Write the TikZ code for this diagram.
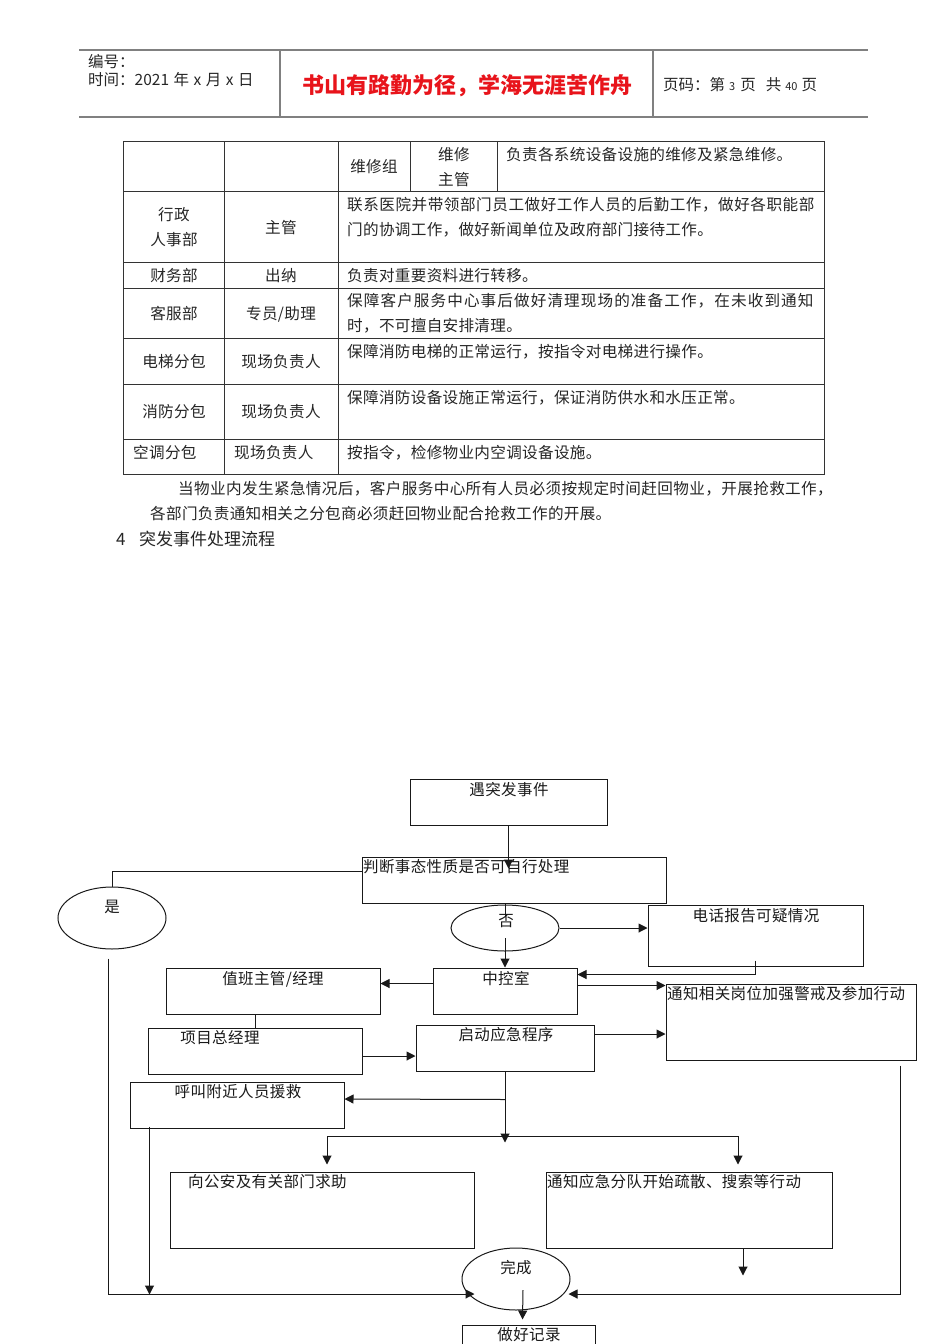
\documentclass[tikz,border=0pt]{standalone}
\usepackage{fontspec}
\setmainfont{Noto Sans CJK SC}
\usetikzlibrary{shapes.geometric,arrows.meta,calc}
\newcommand\mytabfont{\fontsize{15.6}{18}\selectfont\addfontfeatures{LetterSpace=2}}
\newcommand\myflfont{\fontsize{15.5}{18}\selectfont\addfontfeatures{LetterSpace=2.5}}
\newcommand\myhdfont{\fontsize{15.5}{18}\selectfont}
\newcommand\mysmall{\fontsize{11}{12}\selectfont}
\definecolor{hdred}{RGB}{232,20,27}
\begin{document}
\begin{tikzpicture}[x=1pt,y=-1pt,
  ln/.style={draw=black!80, line width=0.9pt},
  hd/.style={draw=black!50, line width=1.1pt},
  tt/.style={inner sep=0pt, font=\mytabfont, text=black!85},
  fbox/.style={draw=black!90, line width=1pt, rectangle, inner sep=0pt},
  fell/.style={draw=black!90, line width=1pt, ellipse, inner sep=0pt},
  ft/.style={inner sep=0pt, font=\myflfont, text=black!90},
  arr/.style={draw=black!90, line width=1pt, -{Triangle[length=9pt,width=9pt]}},
  cn/.style={draw=black!90, line width=1pt}
]
\fill[white] (0,0) rectangle (950,1344);
\useasboundingbox (0,0) rectangle (950,1344);

% ---------- header ----------
\draw[hd] (79,50) -- (868,50);
\draw[hd] (79,117) -- (868,117);
\draw[hd] (280,50) -- (280,117);
\draw[hd] (653,50) -- (653,117);
\node[tt, font=\myhdfont, anchor=west] (h1) at (88,62) {编号：};
\node[tt, font=\myhdfont, anchor=west] (h2) at (88,80) {时间：2021\hspace{4.5pt}年\hspace{4.5pt}x\hspace{4.5pt}月\hspace{4.5pt}x\hspace{4.5pt}日};
\node[inner sep=0pt, font=\fontsize{22}{24}\selectfont\bfseries, text=hdred] (h3) at (467,86) {书山有路勤为径，学海无涯苦作舟};
\node[tt, font=\myhdfont, anchor=west] (h4) at (663,85) {页码：第\hspace{4pt}{\mysmall 3}\hspace{5pt}页\hspace{10pt}共\hspace{4pt}{\mysmall 40}\hspace{4pt}页};

% ---------- table ----------
\draw[ln] (123,141) rectangle (824,474);
\foreach \yy in {191,262,288,338,384,439} \draw[ln] (123,\yy) -- (824,\yy);
\draw[ln] (224,141) -- (224,474);
\draw[ln] (338,141) -- (338,474);
\draw[ln] (410,141) -- (410,191);
\draw[ln] (497,141) -- (497,191);

\node[tt] (r1a) at (374,167) {维修组};
\node[tt] (r1b) at (454,155) {维修};
\node[tt] (r1c) at (454,180) {主管};
\node[tt, anchor=west] (r1d) at (506,155) {负责各系统设备设施的维修及紧急维修。};

\node[tt] (r2a) at (174,215) {行政};
\node[tt] (r2b) at (174,240) {人事部};
\node[tt] (r2c) at (281,228) {主管};
\node[tt, anchor=west, font=\mytabfont\addfontfeatures{LetterSpace=3.4}] (r2d) at (347,205) {联系医院并带领部门员工做好工作人员的后勤工作，做好各职能部};
\node[tt, anchor=west] (r2e) at (347,230) {门的协调工作，做好新闻单位及政府部门接待工作。};

\node[tt] (r3a) at (174,276) {财务部};
\node[tt] (r3b) at (281,276) {出纳};
\node[tt, anchor=west] (r3c) at (347,276) {负责对重要资料进行转移。};

\node[tt] (r4a) at (174,314) {客服部};
\node[tt] (r4b) at (281,314) {专员/助理};
\node[tt, anchor=west, font=\mytabfont\addfontfeatures{LetterSpace=7}] (r4c) at (347,301) {保障客户服务中心事后做好清理现场的准备工作，在未收到通知};
\node[tt, anchor=west] (r4d) at (347,326) {时，不可擅自安排清理。};

\node[tt] (r5a) at (174,362) {电梯分包};
\node[tt] (r5b) at (281,362) {现场负责人};
\node[tt, anchor=west] (r5c) at (347,352) {保障消防电梯的正常运行，按指令对电梯进行操作。};

\node[tt] (r6a) at (174,412) {消防分包};
\node[tt] (r6b) at (281,412) {现场负责人};
\node[tt, anchor=west] (r6c) at (347,398) {保障消防设备设施正常运行，保证消防供水和水压正常。};

\node[tt, anchor=west] (r7a) at (133,453) {空调分包};
\node[tt, anchor=west] (r7b) at (234,453) {现场负责人};
\node[tt, anchor=west] (r7c) at (347,453) {按指令，检修物业内空调设备设施。};

\node[tt, anchor=west, font=\mytabfont\addfontfeatures{LetterSpace=2.4}] (p1) at (178,489) {当物业内发生紧急情况后，客户服务中心所有人员必须按规定时间赶回物业，开展抢救工作，};
\node[tt, anchor=west] (p2) at (150,514) {各部门负责通知相关之分包商必须赶回物业配合抢救工作的开展。};
\node[tt, anchor=west, font=\fontsize{17}{19}\selectfont] (s4) at (116,539) {4};
\node[tt, anchor=west, font=\fontsize{17}{19}\selectfont] (s4t) at (139,539) {突发事件处理流程};

% ---------- flowchart ----------
\node[fbox, minimum width=197pt, minimum height=46pt] (yu) at (508.5,802) {};
\node[fbox, minimum width=304pt, minimum height=46pt] (pd) at (514,880) {};
\node[fell, minimum width=108pt, minimum height=62pt] (yes) at (112,918) {};
\node[fell, minimum width=108pt, minimum height=46pt] (no) at (505,928) {};
\node[fbox, minimum width=215pt, minimum height=61pt] (dh) at (755.5,935.5) {};
\node[fbox, minimum width=214pt, minimum height=46pt] (zb) at (273,991) {};
\node[fbox, minimum width=144pt, minimum height=46pt] (zk) at (505,991) {};
\node[fbox, minimum width=250pt, minimum height=76pt] (tz) at (791,1022) {};
\node[fbox, minimum width=214pt, minimum height=46pt] (xm) at (255,1051) {};
\node[fbox, minimum width=178pt, minimum height=46pt] (qd) at (505,1048) {};
\node[fbox, minimum width=214pt, minimum height=46pt] (hj) at (237,1105) {};
\node[fbox, minimum width=304pt, minimum height=76pt] (ga) at (322,1210) {};
\node[fbox, minimum width=286pt, minimum height=76pt] (tj) at (689,1210) {};
\node[fell, minimum width=108pt, minimum height=62pt] (done) at (516,1279) {};
\node[fbox, minimum width=133pt, minimum height=46pt] (jl) at (528.5,1348) {};

\node[ft] (tyu) at (509,790) {遇突发事件};
\node[ft, anchor=west] (tpd) at (363,867) {判断事态性质是否可自行处理};
\node[ft] (tyes) at (112,907) {是};
\node[ft] (tno) at (506,921) {否};
\node[ft] (tdh) at (756,916) {电话报告可疑情况};
\node[ft] (tzb) at (273,979) {值班主管/经理};
\node[ft] (tzk) at (506,979) {中控室};
\node[ft, anchor=west] (ttz) at (667,994) {通知相关岗位加强警戒及参加行动};
\node[ft] (txm) at (220,1038) {项目总经理};
\node[ft] (tqd) at (506,1035) {启动应急程序};
\node[ft] (thj) at (238,1092) {呼叫附近人员援救};
\node[ft, anchor=west] (tga) at (188,1182) {向公安及有关部门求助};
\node[ft, anchor=west] (ttj) at (547,1182) {通知应急分队开始疏散、搜索等行动};
\node[ft] (tdone) at (516,1268) {完成};
\node[ft] (tjl) at (529,1335) {做好记录};

\coordinate (pdin) at ($(pd.north)+(0,12)$);
\coordinate (split) at ($(qd.south)+(0,65)$);
\coordinate (tjend) at ($(tj.south)+(54,27)$);

\draw[arr] (yu.south) -- (yu.south |- pdin);
\draw[cn] ($(pd.north west)+(0,15)$) -| (yes.north);
\draw[cn] (no |- pd.south) -- ($(no)+(0,-11)$);
\draw[arr] ($(no)+(0,10)$) -- (zk.north);
\draw[arr] (no.east) -- (no.east -| dh.west);
\draw[arr] ($(dh.south)+(0,-6)$) |- ($(zk.north east)+(0,7)$);
\draw[arr] ($(zk.north east)+(0,18)$) -- ($(tz.north west)+(0,2)$);
\draw[arr] ($(zk.north west)+(0,16)$) -- ($(zb.north east)+(0,16)$);
\draw[cn] (xm.north |- zb.south) -- (xm.north);
\draw[arr] ($(xm.east)+(0,5)$) -- ($(qd.west)+(0,8)$);
\draw[arr] ($(qd.east)+(0,-14)$) -- ($(tz.west)+(0,12)$);
\draw[arr] (qd.south) -- ($(qd.south)+(0,71)$);
\draw[arr] ($(qd.south)+(0,28)$) -- ($(hj.east)+(0,-6)$);
\draw[arr] (split) -| ($(ga.north)+(5,-7)$);
\draw[arr] (split) -| ($(tj.north)+(49,-7)$);
\draw[arr] ($(tj.south)+(54,0)$) -- (tjend);
\draw[arr] ($(tz.south east)+(-16,5)$) |- ($(done.east)+(-2,15)$);
\draw[arr] ($(yes.south)+(-4,9)$) |- ($(done.west)+(13,15)$);
\draw[arr] ($(hj.south west)+(20,-2)$) -- ($(hj.south west)+(20,166)$);
\draw[arr] ($(done)+(7,11)$) -- ($(jl.north)+(-6,-5)$);
\end{tikzpicture}
\end{document}
